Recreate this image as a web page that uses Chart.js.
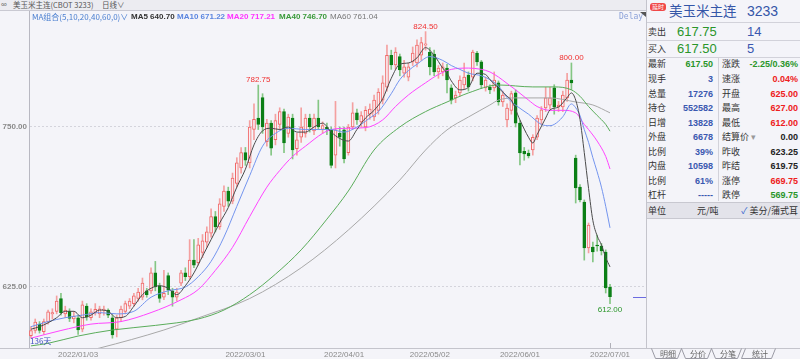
<!DOCTYPE html>
<html><head><meta charset="utf-8">
<script src="https://cdn.jsdelivr.net/npm/chart.js@4.4.1/dist/chart.umd.min.js"></script>
<style>
html,body{margin:0;padding:0;}
body{width:800px;height:359px;background:#f4f4f9;overflow:hidden;position:relative;font-family:"Liberation Sans",Arial,"Noto Sans CJK SC",sans-serif;}
.a{position:absolute;white-space:nowrap;line-height:1;}
#cv{position:absolute;left:0;top:0;}
#titlebar{position:absolute;left:0;top:0;width:646px;height:10px;background:#ececf1;border-bottom:1px solid #c9c9d2;}
.lg{font-size:8px;font-weight:bold;top:13px;}
#panel{position:absolute;left:646px;top:0;width:154px;height:348px;border-left:1px solid #c4c4cc;background:#f4f4f9;}
.hl{position:absolute;left:0;width:154px;height:0;border-top:1px solid #d2d2da;}
.lab{font-family:"Noto Sans CJK SC",sans-serif;font-size:9px;color:#333;}
.val{font-size:9px;font-weight:bold;text-align:right;}
.blue{color:#3a58b0}.green{color:#2a962a}.red{color:#ee2020}.blk{color:#222}
.tab{font-family:"Noto Sans CJK SC",sans-serif;font-size:8px;color:#666;top:350px;}
</style></head>
<body>
<div id="titlebar"></div>
<div class="a" style="left:1px;top:1px;font-size:8px;color:#666;">∞</div>
<div class="a" style="left:13px;top:1px;font-size:7.5px;color:#555;font-family:'Noto Sans CJK SC',sans-serif;">美玉米主连(CBOT 3233)</div>
<div class="a" style="left:102px;top:1px;font-size:7.5px;color:#555;font-family:'Noto Sans CJK SC',sans-serif;">日线∨</div>
<canvas id="cv" width="646" height="359"></canvas>
<div class="a lg" style="left:32px;color:#4a7fd0;font-family:'Noto Sans CJK SC',sans-serif;font-weight:normal;">MA组合(5,10,20,40,60,0)∨</div>
<div class="a lg" style="left:131px;color:#333;">MA5 640.70</div>
<div class="a lg" style="left:177px;color:#5b86e0;">MA10 671.22</div>
<div class="a lg" style="left:227px;color:#ff33ff;">MA20 717.21</div>
<div class="a lg" style="left:279px;color:#3a9a3a;">MA40 746.70</div>
<div class="a lg" style="left:330px;color:#777;font-weight:normal;">MA60 761.04</div>
<div class="a" style="left:619px;top:13px;font-size:8px;color:#8aa0d8;font-family:'DejaVu Sans Mono',monospace;">Delay</div>
<div class="a" style="left:30px;top:337px;font-size:8px;color:#4050c0;font-family:'Noto Sans CJK SC',sans-serif;">136天</div>

<div id="panel">
  <div class="a" style="left:3px;top:3px;background:#f04848;color:#fff;font-size:6px;padding:1px 2px;border-radius:3px;font-family:'Noto Sans CJK SC',sans-serif;">延时</div>
  <div class="a" style="left:22px;top:4px;font-size:13.5px;color:#3456a8;font-family:'Noto Sans CJK SC',sans-serif;">美玉米主连</div>
  <div class="a" style="left:100px;top:4px;font-size:14px;color:#3456a8;">3233</div>
  <div class="hl" style="top:22px;"></div>
  <div class="a lab" style="left:1px;top:27px;">卖出</div>
  <div class="a" style="left:30px;top:25px;font-size:13px;color:#2a962a;">617.75</div>
  <div class="a" style="left:100px;top:25px;font-size:13px;color:#3a58b0;">14</div>
  <div class="hl" style="top:40px;"></div>
  <div class="a lab" style="left:1px;top:44px;">买入</div>
  <div class="a" style="left:30px;top:42px;font-size:13px;color:#2a962a;">617.50</div>
  <div class="a" style="left:100px;top:42px;font-size:13px;color:#3a58b0;">5</div>
  <div class="hl" style="top:57px;"></div>
  <div style="position:absolute;left:71px;top:58px;width:0;height:143px;border-left:1px solid #d2d2da;"></div>

  <div class="a lab" style="left:1px;top:59px;">最新</div><div class="a val green" style="right:88px;top:60px;">617.50</div>
  <div class="a lab" style="left:75px;top:59px;">涨跌</div><div class="a val green" style="right:3px;top:60px;">-2.25/0.36%</div>
  <div class="a lab" style="left:1px;top:74px;">现手</div><div class="a val blue" style="right:88px;top:75px;">3</div>
  <div class="a lab" style="left:75px;top:74px;">速涨</div><div class="a val red" style="right:3px;top:75px;">0.04%</div>
  <div class="a lab" style="left:1px;top:89px;">总量</div><div class="a val blue" style="right:88px;top:90px;">17276</div>
  <div class="a lab" style="left:75px;top:89px;">开盘</div><div class="a val red" style="right:3px;top:90px;">625.00</div>
  <div class="a lab" style="left:1px;top:103px;">持仓</div><div class="a val blue" style="right:88px;top:104px;">552582</div>
  <div class="a lab" style="left:75px;top:103px;">最高</div><div class="a val red" style="right:3px;top:104px;">627.00</div>
  <div class="a lab" style="left:1px;top:118px;">日增</div><div class="a val blue" style="right:88px;top:119px;">13828</div>
  <div class="a lab" style="left:75px;top:118px;">最低</div><div class="a val red" style="right:3px;top:119px;">612.00</div>
  <div class="a lab" style="left:1px;top:132px;">外盘</div><div class="a val blue" style="right:88px;top:133px;">6678</div>
  <div class="a lab" style="left:75px;top:132px;">结算价 <span style="color:#999">▾</span></div><div class="a val blk" style="right:3px;top:133px;">0.00</div>
  <div class="a lab" style="left:1px;top:147px;">比例</div><div class="a val blue" style="right:88px;top:148px;">39%</div>
  <div class="a lab" style="left:75px;top:147px;">昨收</div><div class="a val blk" style="right:3px;top:148px;">623.25</div>
  <div class="a lab" style="left:1px;top:161px;">内盘</div><div class="a val blue" style="right:88px;top:162px;">10598</div>
  <div class="a lab" style="left:75px;top:161px;">昨结</div><div class="a val blk" style="right:3px;top:162px;">619.75</div>
  <div class="a lab" style="left:1px;top:176px;">比例</div><div class="a val blue" style="right:88px;top:177px;">61%</div>
  <div class="a lab" style="left:75px;top:176px;">涨停</div><div class="a val red" style="right:3px;top:177px;">669.75</div>
  <div class="a lab" style="left:1px;top:190px;">杠杆</div><div class="a val blue" style="right:88px;top:191px;">-----</div>
  <div class="a lab" style="left:75px;top:190px;">跌停</div><div class="a val green" style="right:3px;top:191px;">569.75</div>

  <div style="position:absolute;left:0;top:202px;width:154px;height:15px;background:#e3e3ea;border-top:1px solid #c8c8d0;border-bottom:1px solid #c8c8d0;"></div>
  <div class="a lab" style="left:1px;top:206px;">单位</div>
  <div class="a lab" style="left:50px;top:206px;">元/吨</div>
  <div class="a lab" style="right:3px;top:206px;"><span style="color:#3a6ad0">✓</span> 美分/蒲式耳</div>
</div>
<div style="position:absolute;left:0;top:348px;width:800px;height:0;border-top:1px solid #c4c4cc;"></div>
<svg style="position:absolute;left:646px;top:348px;" width="154" height="11">
  <g fill="none" stroke="#9a9aa4" stroke-width="1">
    <path d="M5.5,0.5 L9.5,10.5 L31.5,10.5 L35.5,0.5"/>
    <path d="M35.5,0.5 L39.5,10.5 L61.5,10.5 L65.5,0.5"/>
    <path d="M65.5,0.5 L69.5,10.5 L91.5,10.5 L95.5,0.5"/>
    <path d="M99.5,0.5 L95.5,10.5 L125.5,10.5 L129.5,0.5"/>
  </g>
</svg>
<div class="a tab" style="left:660px;">明细</div>
<div class="a tab" style="left:690px;">分价</div>
<div class="a tab" style="left:720px;">分笔</div>
<div class="a tab" style="left:752px;">统计</div>

<script>
// ---- candle data ----
const open = [587,591,596,590,598,604,606,616,604,606,600,601,592,610,601,605,604,607,607,601,
592,601,606,610,612,616,617,622,622,636,626,617,634,622,617,628,636,633,646,644,
652,660,667,680,672,688,700,692,706,718,730,722,748,757,773,738.5,753,740,752,762,
745,757,733,742,745,757,747,757,748,750,748,728,745,747.7,730,750,761,754,750,760,
757.8,763,771,781,806,798.4,805,792,789,800.8,800,806,814,808.6,807,793,793,796,780.5,772.7,
776.6,782.8,790.6,789,807.8,800.8,780.5,781.25,780.5,784.4,769.5,755.5,763,776.6,753,731,729.7,732,742,755.5,
764.8,767,780.5,765.6,765.6,772.7,786.7,725.8,703,691.4,655.5,656.25,657.8,657,652.3,625];
const high = [594,600,598,600,607,608,618,620,610,608,606,603,614,612,608,612,610,610,608,603,
603,610,614,616,620,624,632,624,640,645,628,638,636,624,624,638,640,662,662,663,
666,672,686,684,694,704,703,714,726,734,734,755,768,782.75,776,756,755,760,765,764,
760,760,745,765,760,760,760,771,754,753,750,770,750,750,752,769,764,762,766,768,
775,780,790,814,810,812,807,802,800,812.5,818,820,824.5,812,810,798,800,799,783,778,
790,800,793,810,809,802,789,783,793,786,778,768,778,779,755,734,732,744,759,766,
781,781,783,770,778,792,800,728,705,693,675,660,665.6,659,654,627];
const low = [585,589,589,588,596,600,604,603,601,598,597,588,590,599,599,603,601,603,601,585,
586,598,604,608,610,614,615,617,620,622,613,615,619,610,614,626,630,631,640,642,
648,656,664,668,670,684,688,690,703,714,720,718,740,748,745,735,728,736,748,730,
742,725,728,738,742,746,744,748,745,744,718,718,735,722,728,748,752,750,747,756,
755,760,768,778,795,795,790,789,786,798,797,802,810,790.6,790,788,790,776.6,768,769,
774,780,778,786,798,780,778,776,778,767,766,750,760,750,720.3,724,725.8,728,740,752,
762,764,760,762,762,770,779,690.6,691.4,646,651.6,644.5,653,650,620.3,612];
const close = [591,597.5,591,598,605.5,605,614,605,607,600.5,602,591.5,611,601.5,605.5,607.5,608,607.5,603,587.5,
601,607.8,612,614,618,621,628,619,636,625,616,620,622.5,617,621,636,633,646,642,658,
661,668,680,672,690,700,692,710,722,730,724,750,756,752,750,753,733.5,755,762,737.5,
757.8,732,740,750,757,750,757,750,751,748,720,747.7,742,725,750,761,755.5,759,763,764,
771,777.3,784.4,806,798.4,808.6,794.5,797,797,807.8,814,816,815,797,793,796,797,786.7,771,775,
786.7,789,781.25,808.6,800.8,782.8,786.7,778.9,786.7,769.5,775,764.8,776,753,729.7,729,727.3,742,757,763.3,
772.7,772.7,765.6,767.2,775,786.7,784.4,702.3,693,655.5,673.4,652.3,657,653.1,624.2,617.5];

// ---- moving-average lines: candle index / value ----
const ma5Idx = [0,2,4,6,8,10,12,14,16,18,20,22,24,26,28,30,32,34,36,38,40,42,44,46,48,50,52,54,56,58,60,62,64,66,68,70,72,74,76,78,80,82,84,86,88,90,92,94,96,97,98,100,102,104,106,107,109,111,112,114,116,117,118,120,121,123,125,126,127,128,129,130,131,132,133,134,135];
const ma5Val = [592,594,597,601,606,606,601,603,607,606,601,602,610,619,624,626,624,619,626,636,649,662,675,687,703,717,736,747,749,748,750,746,746,750,753,746,741,739,748,757,763,772,788,799,800,804,812,806,796,792,786,779,781,792,791,787,780.5,774,771,755.5,742,737.5,744,757,763.3,765.6,773,776.6,771,756,730,702,677,665,658,648,640.7];
const ma10Idx = [0,4,8,12,16,20,24,28,32,36,39,42,45,48,51,54,57,60,64,67,70,73,76,79,81,84,86,88,90,93,96,98,100,102,105,107,109,111,113,116,119,121,122,124,126,127,128,129,130,131,132,133,134,135];
const ma10Val = [594,598,601,603,605,604,606,617,622,625,633,645,664,688,712,735,745,749,748,748,748,746,750,757,762,776,787,794,799,805,802,798,795,792,790,787,782,773,767,760,752,751,752,758,768,765,759,748,738,726,715,703,688,671.2];
const ma20Idx = [0,7,14,21,28,35,39,43,47,51,55,58,61,64,68,70,74,78,82,85,88,92,95,98,102,105,107,109,111,113,116,118,121,124,127,129,130,132,134,135];
const ma20Val = [585,591,596,598,605,615,623,638,656,680,703,716,727,735,745,748,749,749.5,755.5,766,775,784.5,791,795,796,795,793,789,784,779,771,766,763,763,761,752,748,739,727,717.2];
const ma40Idx = [0,4,11,19,29,39,45,51,57,63,69,74,80,86,92,97,102,109,117,122,126,128,130,132,134,135];
const ma40Val = [579,581,586.7,591.4,595,600,607,619,635,654,678,700,732,750,762,769.5,776.6,782.8,781.3,781.3,779,774,766,759,752,746.7];
const ma60Idx = [0,8,16,31,39,51,63,74,86,92,97,102,107,109,113,121,127,131,135];
const ma60Val = [565,571,577.3,591.4,600.8,616,640,669.5,708.6,732,747.7,757.8,767.2,771,772.7,772.7,769.5,767.2,761.04];

// ---- calendar / tick labels ----
const firstDay = '2021-12-16', lastDay = '2022-07-01';
const holidays = ['2021-12-24','2022-01-17','2022-02-21','2022-04-15','2022-05-30','2022-06-20'];
const tickDates = ['2022/01/03','2022/03/01','2022/04/01','2022/05/02','2022/06/01','2022/07/01'];
const highMarks = [53,92,126];   // candles whose highs carry a label
const lowMarks = [135];          // candles whose lows carry a label

const dates = [];
for (let d = new Date(firstDay+'T00:00:00Z'); d <= new Date(lastDay+'T00:00:00Z'); d.setUTCDate(d.getUTCDate()+1)) {
  const wd = d.getUTCDay(); const iso = d.toISOString().slice(0,10);
  if (wd===0 || wd===6 || holidays.includes(iso)) continue;
  dates.push(iso.replace(/-/g,'/'));
}
const tickIdx = tickDates.map(t => dates.indexOf(t));

const N = close.length;
const ids = [...Array(N).keys()];
const isUp = ids.map(i => close[i] >= open[i]);
const UPC = '#f06868', UPW = '#f4a0a0', UPF = '#f9eef2', DNC = '#0b7f16', DNW = '#84c684';

const mk = (I,V) => I.map((k,j)=>({x:k, y:V[j]}));
const lineDs = (label, I, V, color) => ({type:'line', label, data: mk(I,V), borderColor: color, borderWidth:1, pointRadius:0, fill:false, cubicInterpolationMode:'monotone', order:0});

const annot = {
  id:'annot',
  afterDatasetsDraw(chart){
    const {ctx, scales:{x,y}, chartArea} = chart;
    ctx.save();
    ctx.font = '8px "Liberation Sans", Arial';
    ctx.textAlign = 'center';
    ctx.fillStyle = '#f03030'; ctx.textBaseline = 'bottom';
    highMarks.forEach(i => ctx.fillText(high[i].toFixed(2), x.getPixelForValue(i), y.getPixelForValue(high[i]) - 1));
    ctx.fillStyle = '#2a962a'; ctx.textBaseline = 'top';
    lowMarks.forEach(i => ctx.fillText(low[i].toFixed(2), x.getPixelForValue(i), y.getPixelForValue(low[i]) + 2));
    const yp = Math.round(y.getPixelForValue(close[N-1])) + 0.5;
    ctx.strokeStyle = '#6b6be0'; ctx.lineWidth = 1;
    ctx.beginPath(); ctx.moveTo(chartArea.right - 13, yp); ctx.lineTo(chartArea.right, yp); ctx.stroke();
    ctx.fillStyle = '#555';
    ctx.beginPath(); ctx.moveTo(chartArea.right-6, chartArea.top+1); ctx.lineTo(chartArea.right, chartArea.top+1); ctx.lineTo(chartArea.right, chartArea.top+6); ctx.fill();
    // small tick mark at the last date
    const xt = Math.round(x.getPixelForValue(tickIdx[tickIdx.length-1])) + 0.5;
    ctx.strokeStyle = '#b0b0b8';
    ctx.beginPath(); ctx.moveTo(xt, chartArea.bottom); ctx.lineTo(xt, chartArea.bottom - 5); ctx.stroke();
    ctx.restore();
  }
};

new Chart(document.getElementById('cv'), {
  data: {
    datasets: [
      lineDs('MA5', ma5Idx, ma5Val, '#4a4a4a'),
      lineDs('MA10', ma10Idx, ma10Val, '#7394ee'),
      lineDs('MA20', ma20Idx, ma20Val, '#ff44ff'),
      lineDs('MA40', ma40Idx, ma40Val, '#5aac5a'),
      lineDs('MA60', ma60Idx, ma60Val, '#a8a8a8'),
      {type:'bar', label:'body', order:1, grouped:false, barThickness:3, minBarLength:1,
       data: ids.map(i => ({x:i, y:[Math.min(open[i],close[i]), Math.max(open[i],close[i])]})),
       backgroundColor: ids.map(i => isUp[i] ? UPF : DNC),
       borderColor: ids.map(i => isUp[i] ? UPC : DNC), borderWidth:1, borderSkipped:false},
      {type:'bar', label:'wick', order:2, grouped:false, barThickness:1,
       data: ids.map(i => ({x:i, y:[low[i], high[i]]})),
       backgroundColor: ids.map(i => isUp[i] ? UPW : DNW), borderWidth:0}
    ]
  },
  options: {
    responsive:false, animation:false, events:[],
    layout:{padding:{top:11, right:0, left:0, bottom:0}},
    plugins:{legend:{display:false}, tooltip:{enabled:false}},
    scales:{
      x:{type:'linear', min:-0.45, max:143.39, offset:false,
         grid:{display:false, drawTicks:false, tickLength:0}, border:{display:true, color:'#c4c4cc'},
         afterBuildTicks: s => { s.ticks = tickIdx.map(v => ({value:v})); },
         afterFit: s => { s.height = 11; },
         ticks:{autoSkip:false, maxRotation:0, padding:2, color:'#8a8a8a', font:{size:8, family:'"Liberation Sans", Arial'},
                callback:(v,i) => tickDates[i]}},
      y:{type:'linear', position:'left', min:577.34, max:840.6,
         afterBuildTicks: s => { s.ticks = [{value:625},{value:750}]; },
         afterFit: s => { s.width = 29; },
         grid:{color:'#d4d4dc', drawTicks:false},
         border:{display:true, color:'#b8b8c2', dash:[2,2]},
         ticks:{padding:2, color:'#8a8a8a', font:{size:8, weight:'bold', family:'"Liberation Sans", Arial'}, callback: v => v.toFixed(2)}}
    }
  },
  plugins:[annot]
});
</script>
</body></html>
